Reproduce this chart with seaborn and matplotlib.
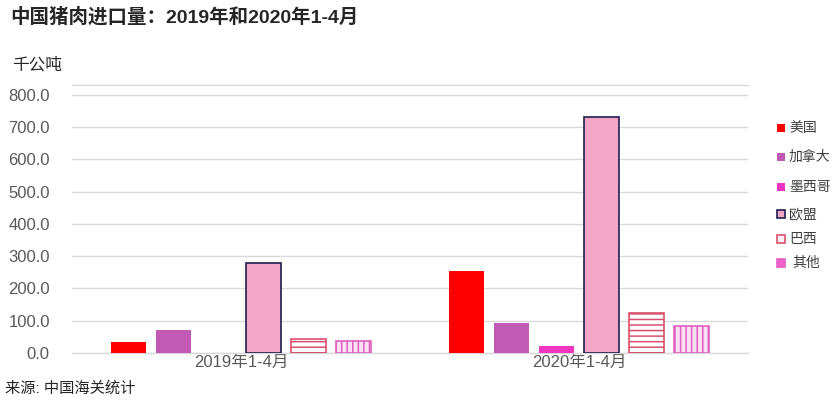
import matplotlib
matplotlib.use("Agg")
import matplotlib.pyplot as plt
import seaborn as sns
import pandas as pd
from matplotlib.patches import Rectangle

periods = ["2019年1-4月", "2020年1-4月"]
countries = ["美国", "加拿大", "墨西哥", "欧盟", "巴西", "其他"]
vals_2019 = [34, 71, 0, 279, 43, 37]
vals_2020 = [254, 93, 22, 732, 124, 84]
yticks = [0, 100, 200, 300, 400, 500, 600, 700, 800]

faces = ["#FF0000", "#C05AB4", "#F035C0", "#F4A6C6", "#FFFFFF", "#FCE0F4"]
edges = ["#FF0000", "#C05AB4", "#F035C0", "#1F1F4F", "#D9506E", "#E060C0"]
hatches = [None, None, None, None, "---", "|||"]

rows = []
for c, a, b in zip(countries, vals_2019, vals_2020):
    rows.append({"period": periods[0], "country": c, "value": a})
    rows.append({"period": periods[1], "country": c, "value": b})
df = pd.DataFrame(rows)

sns.set_style("white")
fam = ["Liberation Sans", "Noto Sans CJK SC", "DejaVu Sans"]
plt.rcParams["font.family"] = fam
plt.rcParams["hatch.linewidth"] = 1.1

fig = plt.figure(figsize=(8.4, 4.17), dpi=100)
ax = fig.add_axes([72/840, 1-353/417, (748-72)/840, (353-85)/417])

sns.barplot(data=df, x="period", y="value", hue="country", order=periods,
            hue_order=countries, palette=faces, width=0.8, gap=0.22,
            ax=ax, legend=False, saturation=1, errorbar=None)

for i, cont in enumerate(ax.containers):
    for p in cont:
        p.set_facecolor(faces[i])
        p.set_edgecolor(edges[i])
        p.set_linewidth(1.2 if i >= 3 else 0)
        if hatches[i]:
            p.set_hatch(hatches[i])
        p.set_zorder(3)

ax.set_ylim(0, 831)
ax.set_xlim(-0.5, 1.5)
ax.set_yticks(yticks)
ax.set_yticklabels([f"{v:.1f}" for v in yticks], color="#595959", fontsize=12)
ax.tick_params(axis="x", colors="#595959", labelsize=12, length=0, pad=1)
ax.tick_params(axis="y", length=0, pad=16)
ax.set_xlabel("")
ax.set_ylabel("")
ax.grid(axis="y", color="#D9D9D9", linewidth=1)
ax.set_axisbelow(True)
for s in ["left", "right"]:
    ax.spines[s].set_visible(False)
for s in ["top", "bottom"]:
    ax.spines[s].set_color("#D9D9D9")
    ax.spines[s].set_linewidth(1)
for lab in ax.get_xticklabels():
    lab.set_color("#595959")

fig.text(10/840, 1-17/417, "中国猪肉进口量：2019年和2020年1-4月", fontsize=14,
         fontweight="bold", va="center", ha="left", family=fam)
fig.text(12/840, 1-65/417, "千公吨", fontsize=12, va="center", ha="left", family=fam)
fig.text(5/840, 1-388/417, "来源: 中国海关统计", fontsize=11, va="center", ha="left", family=fam)

# legend
leg_y = [128, 157, 187, 214, 239, 263]
for i, (c, y) in enumerate(zip(countries, leg_y)):
    r = Rectangle(((777)/840, 1-(y+4)/417), 8/840, 8/417, transform=fig.transFigure,
                  facecolor=faces[i] if i < 4 else ("#FFF0F5" if i == 4 else "#F060C8"),
                  edgecolor=edges[i] if i >= 3 else faces[i], linewidth=1.2 if i >= 3 else 0)
    fig.add_artist(r)
    fig.text((789 if i != 5 else 792)/840, 1-y/417, c, fontsize=10, va="center", ha="left",
             color="#404040", family=fam)

fig.savefig("out.png", dpi=100)
